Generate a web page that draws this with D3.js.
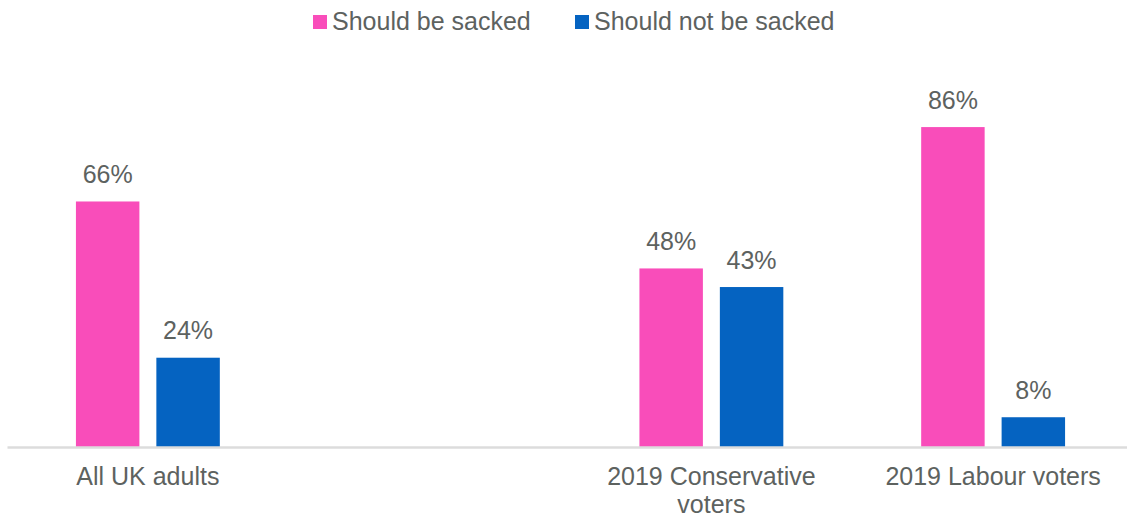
<!DOCTYPE html>
<html>
<head>
<meta charset="utf-8">
<script src="https://cdn.jsdelivr.net/npm/d3@7/dist/d3.min.js"></script>
<style>
  html, body { margin: 0; padding: 0; background: #ffffff; }
  svg { display: block; }
  text { font-family: "Liberation Sans", Arial, sans-serif; fill: #5d625f; }
</style>
</head>
<body>
<div id="chart"></div>
<script>
// Survey groups (one slot left empty as a spacer in the layout)
const categories = ["All UK adults", "", "2019 Conservative voters", "2019 Labour voters"];
const categoryLines = [["All UK adults"], [], ["2019 Conservative", "voters"], ["2019 Labour voters"]];
const seriesNames = ["Should be sacked", "Should not be sacked"];
const shouldBeSacked = [66, null, 48, 86];
const shouldNotBeSacked = [24, null, 43, 8];
const seriesColors = ["#f94dba", "#0563c1"];

const width = 1127, height = 517;
const svg = d3.select("#chart").append("svg")
  .attr("width", width).attr("height", height);

const x0 = d3.scaleBand().domain(categories).range([7, 1134]).paddingInner(0).paddingOuter(0);
const x1 = d3.scaleBand().domain(seriesNames).range([0, x0.bandwidth()])
  .paddingInner(0.211).paddingOuter(0.857);
const y = d3.scaleLinear().domain([0, 100]).range([447, 75]);
const color = d3.scaleOrdinal().domain(seriesNames).range(seriesColors);

const rows = categories.map((c, i) => ({
  category: c,
  values: [
    { series: seriesNames[0], value: shouldBeSacked[i] },
    { series: seriesNames[1], value: shouldNotBeSacked[i] }
  ]
}));

// Bars
const groups = svg.append("g").selectAll("g")
  .data(rows).join("g")
  .attr("transform", d => `translate(${x0(d.category)},0)`);

groups.selectAll("rect")
  .data(d => d.values.filter(v => v.value != null))
  .join("rect")
  .attr("x", d => x1(d.series))
  .attr("width", x1.bandwidth())
  .attr("y", d => y(d.value))
  .attr("height", d => y(0) - y(d.value))
  .attr("fill", d => color(d.series));

// Value labels
groups.selectAll("text.value")
  .data(d => d.values.filter(v => v.value != null))
  .join("text")
  .attr("class", "value")
  .attr("x", d => x1(d.series) + x1.bandwidth() / 2)
  .attr("y", d => y(d.value) - 18.5)
  .attr("text-anchor", "middle")
  .style("font-size", "25px")
  .text(d => d.value + "%");

// Category axis
const xAxis = svg.append("g")
  .attr("transform", `translate(0,${y(0)})`)
  .call(d3.axisBottom(x0).tickSize(0).tickFormat(""));
xAxis.select(".domain").attr("stroke", "#dcdcdc").attr("stroke-width", 2.5);

const labels = svg.append("g").selectAll("text")
  .data(categories.map((c, i) => ({ category: c, lines: categoryLines[i] })))
  .join("text")
  .attr("x", d => x0(d.category) + x0.bandwidth() / 2)
  .attr("y", 485)
  .attr("text-anchor", "middle")
  .style("font-size", "25px");
labels.selectAll("tspan")
  .data(d => d.lines.map((l, j) => ({ l, j, cx: x0(d.category) + x0.bandwidth() / 2 })))
  .join("tspan")
  .attr("x", d => d.cx)
  .attr("dy", d => d.j === 0 ? 0 : 28)
  .text(d => d.l);

// Legend
const legendX = [313, 575];
const legend = svg.append("g").selectAll("g")
  .data(seriesNames).join("g")
  .attr("transform", (d, i) => `translate(${legendX[i]},15)`);
legend.append("rect")
  .attr("width", 14).attr("height", 14)
  .attr("fill", d => color(d));
legend.append("text")
  .attr("x", 19).attr("y", 14.5)
  .style("font-size", "25px")
  .text(d => d);
</script>
</body>
</html>
